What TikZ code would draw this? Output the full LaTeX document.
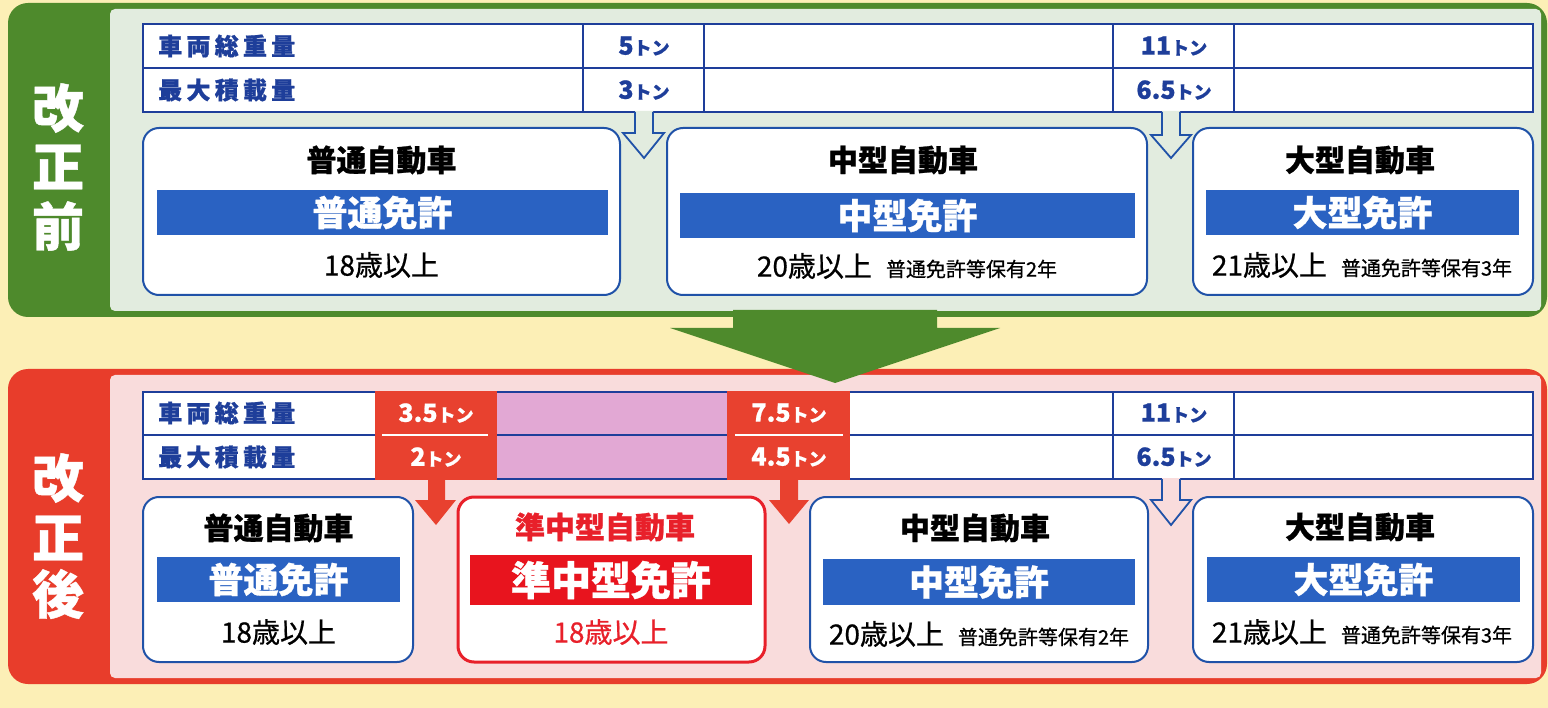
\documentclass[tikz,border=0pt]{standalone}
\usepackage{fontspec}
\setmainfont{Noto Sans CJK JP}[BoldFeatures={FakeBold=0.8}]
\newfontfamily\agefont{Noto Sans CJK JP}[FakeBold=0.6]
\newcommand\fs[1]{\fontsize{#1}{#1}\selectfont}
\definecolor{bgY}{HTML}{FCEFB6}
\definecolor{gr}{HTML}{4E8A2C}
\definecolor{lg}{HTML}{E2ECDF}
\definecolor{rd}{HTML}{E83D2B}
\definecolor{pk}{HTML}{F9DCDC}
\definecolor{cardblue}{HTML}{2052A8}
\definecolor{barblue}{HTML}{2A62C2}
\definecolor{tblue}{HTML}{1E3E9A}
\definecolor{rbox}{HTML}{E8202A}
\definecolor{rbar}{HTML}{E8141E}
\definecolor{mauve}{HTML}{E2A8D4}
\definecolor{rcell}{HTML}{E8412F}
\tikzset{
  vlab/.style={text=white, font=\fs{52}\bfseries, inner sep=0pt},
  tlab/.style={text=tblue, font=\fs{24}\bfseries, inner sep=0pt, anchor=west},
  num/.style={text=tblue, font=\fs{25}\bfseries, inner sep=0pt},
  wnum/.style={text=white, font=\fs{25}\bfseries, inner sep=0pt},
  card/.style={draw=cardblue, line width=2pt, fill=white, rounded corners=16pt, inner sep=0pt, outer sep=0pt},
  rcard/.style={draw=rbox, line width=3pt, fill=white, rounded corners=16pt, inner sep=0pt, outer sep=0pt},
  ctitle/.style={font=\fs{30}\bfseries, inner sep=0pt},
  bar/.style={fill=barblue, text=white, font=\fs{35}\bfseries, inner sep=0pt},
  age/.style={font=\fs{28}\agefont, inner sep=0pt},
  tline/.style={draw=tblue, line width=1.5pt},
  hollow/.style={draw=cardblue, line width=1.8pt, line join=miter}
}
\begin{document}
\begin{tikzpicture}[x=1pt,y=-1pt]
\useasboundingbox (0,0) rectangle (1548,708);
\fill[bgY] (0,0) rectangle (1548,708);

% ===== top panel =====
\fill[gr, rounded corners=20pt] (8,3) rectangle (1547,317);
\fill[lg, rounded corners=5pt] (110,9) rectangle (1541,311);
\node[vlab] (k1) at (58,108) {改};
\node[vlab] (k2) at (58,167) {正};
\node[vlab] (k3) at (58,226) {前};

% table
\fill[white] (143,24) rectangle (1533,112);
\draw[tline] (143,24) rectangle (1533,112);
\draw[tline] (143,68) -- (1533,68);
\foreach \xx in {583,704,1113,1234} \draw[tline] (\xx,24) -- (\xx,112);
\node[tlab] (l1) at (158,46) {\makebox[137pt][s]{車\hfil 両\hfil 総\hfil 重\hfil 量}};
\node[tlab] (l2) at (158,90) {\makebox[137pt][s]{最\hfil 大\hfil 積\hfil 載\hfil 量}};
\node[num] (n1) at (644,46) {5\fs{18}トン};
\node[num] (n2) at (644,90) {3\fs{18}トン};
\node[num] (n3) at (1174,46) {11\fs{18}トン};
\node[num] (n4) at (1174,90) {6.5\fs{18}トン};

% hollow arrows
\fill[lg] (635,111) -- (635,133) -- (623,133) -- (644,158) -- (664,133) -- (653,133) -- (653,111) -- cycle;
\draw[hollow] (635,112) -- (635,133) -- (623,133) -- (644,158) -- (664,133) -- (653,133) -- (653,112);
\fill[lg] (1162,111) -- (1162,135) -- (1151,135) -- (1171,158) -- (1191,135) -- (1180,135) -- (1180,111) -- cycle;
\draw[hollow] (1162,112) -- (1162,135) -- (1151,135) -- (1171,158) -- (1191,135) -- (1180,135) -- (1180,112);

% cards
\node[card, minimum width=477pt, minimum height=167pt] (c1) at (381.5,211.5) {};
\node[card, minimum width=480pt, minimum height=167pt] (c2) at (907,211.5) {};
\node[card, minimum width=340pt, minimum height=167pt] (c3) at (1363,211.5) {};
\node[ctitle] (t1) at (381.5,160) {普通自動車};
\node[ctitle] (t2) at (903,160) {中型自動車};
\node[ctitle] (t3) at (1360,160) {大型自動車};
\node[bar, minimum width=451pt, minimum height=45pt] (b1) at (382.5,212.5) {普通免許};
\node[bar, minimum width=455pt, minimum height=45pt] (b2) at (907.5,215.5) {中型免許};
\node[bar, minimum width=313pt, minimum height=45pt] (b3) at (1362.5,212.5) {大型免許};
\node[age] (a1) at (381.5,265) {18歳以上};
\node[age] (a2) at (907,266) {20歳以上\hspace{14pt}\fs{20}普通免許等保有2年};
\node[age] (a3) at (1362,265) {21歳以上\hspace{14pt}\fs{20}普通免許等保有3年};

% ===== bottom panel =====
\fill[rd, rounded corners=20pt] (8,369) rectangle (1547,684);
\fill[pk, rounded corners=5pt] (110,375) rectangle (1541,678);
\node[vlab] (m1) at (58,478) {改};
\node[vlab] (m2) at (58,538) {正};
\node[vlab] (m3) at (58,594) {後};

% table
\fill[white] (143,392) rectangle (1533,479);
\fill[mauve] (497,392) rectangle (727,479);
\draw[tline] (143,392) rectangle (1533,479);
\draw[tline] (143,435) -- (1533,435);
\foreach \xx in {1113,1234} \draw[tline] (\xx,392) -- (\xx,479);
\fill[rcell] (375,391) rectangle (497,480);
\fill[rcell] (727,391) rectangle (850,480);
\draw[white, line width=1.5pt] (382,435) -- (488,435);
\draw[white, line width=1.5pt] (735,435) -- (843,435);
\node[tlab] (l3) at (158,413) {\makebox[137pt][s]{車\hfil 両\hfil 総\hfil 重\hfil 量}};
\node[tlab] (l4) at (158,457) {\makebox[137pt][s]{最\hfil 大\hfil 積\hfil 載\hfil 量}};
\node[wnum] (n5) at (436,413) {3.5\fs{18}トン};
\node[wnum] (n6) at (436,457) {2\fs{18}トン};
\node[wnum] (n7) at (789,413) {7.5\fs{18}トン};
\node[wnum] (n8) at (789,457) {4.5\fs{18}トン};
\node[num] (n9) at (1174,413) {11\fs{18}トン};
\node[num] (n10) at (1174,457) {6.5\fs{18}トン};

% arrows
\fill[rcell] (428,478) -- (428,500) -- (415,500) -- (436,525) -- (456,500) -- (445,500) -- (445,478) -- cycle;
\fill[rcell] (780,478) -- (780,500) -- (769,500) -- (789,524) -- (809,500) -- (798,500) -- (798,478) -- cycle;
\fill[pk] (1162,478) -- (1162,500) -- (1151,500) -- (1171,525) -- (1191,500) -- (1180,500) -- (1180,478) -- cycle;
\draw[hollow] (1162,479) -- (1162,500) -- (1151,500) -- (1171,525) -- (1191,500) -- (1180,500) -- (1180,479);

% cards
\node[card, minimum width=270pt, minimum height=165pt] (d1) at (278,579.5) {};
\node[rcard, minimum width=307pt, minimum height=165pt] (d2) at (611.5,579.5) {};
\node[card, minimum width=338pt, minimum height=165pt] (d3) at (979,579.5) {};
\node[card, minimum width=340pt, minimum height=165pt] (d4) at (1363,579.5) {};
\node[ctitle] (s1) at (278.5,528) {普通自動車};
\node[ctitle, text=rbox] (s2) at (605,527) {準中型自動車};
\node[ctitle] (s3) at (975,528) {中型自動車};
\node[ctitle] (s4) at (1360,527) {大型自動車};
\node[bar, minimum width=243pt, minimum height=45pt] (e1) at (278.5,579.5) {普通免許};
\node[bar, fill=rbar, font=\fs{40}\bfseries, minimum width=282pt, minimum height=50pt] (e2) at (611,580) {準中型免許};
\node[bar, minimum width=312pt, minimum height=46pt] (e3) at (979,582) {中型免許};
\node[bar, minimum width=313pt, minimum height=45pt] (e4) at (1363.5,579.5) {大型免許};
\node[age] (f1) at (278.5,632) {18歳以上};
\node[age, text=rbox] (f2) at (611,632) {18歳以上};
\node[age] (f3) at (979,634) {20歳以上\hspace{14pt}\fs{20}普通免許等保有2年};
\node[age] (f4) at (1362,632) {21歳以上\hspace{14pt}\fs{20}普通免許等保有3年};

% big green arrow
\fill[gr] (733,310) -- (937,310) -- (937,328) -- (1000,328) -- (835,383) -- (670,328) -- (733,328) -- cycle;
\end{tikzpicture}
\end{document}
